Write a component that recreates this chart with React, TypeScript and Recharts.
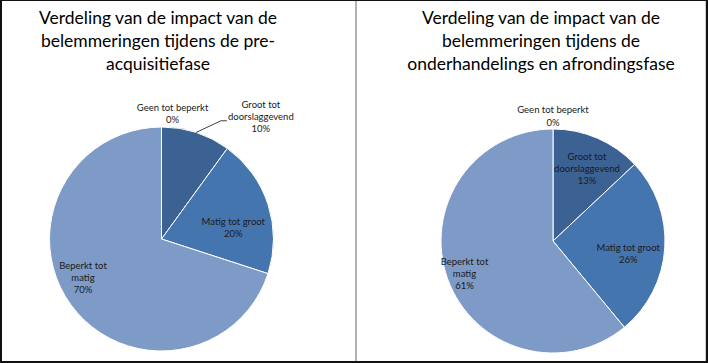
import { PieChart, Pie, Cell } from 'recharts';

const CATEGORIES = ['Geen tot beperkt', 'Groot tot doorslaggevend', 'Matig tot groot', 'Beperkt tot matig'];
const PRE_ACQUISITIE = [0, 10, 20, 70];
const ONDERHANDELING = [0, 13, 26, 61];
const TITLE_LEFT = ['Verdeling van de impact van de', 'belemmeringen tijdens de pre-', 'acquisitiefase'];
const TITLE_RIGHT = ['Verdeling van de impact van de', 'belemmeringen tijdens de', 'onderhandelings en afrondingsfase'];
// label lines per category (Excel wraps them like this)
const LABEL_LINES = [['Geen tot beperkt'], ['Groot tot', 'doorslaggevend'], ['Matig tot groot'], ['Beperkt tot', 'matig']];

const COLORS = ['#3C6193', '#3C6193', '#4575AF', '#7E9AC7'];
const FONT = 'Lato, "Open Sans", sans-serif';
const RADIAN = Math.PI / 180;
const NO_MARGIN = { top: 0, right: 0, bottom: 0, left: 0 };

// label placement per slice: distance as fraction of radius and angle shift from midAngle
const LEFT_SPOTS = [
    { f: 1.13, da: -5 },
    { f: 1.41, da: -21 },
    { f: 0.65, da: -8.5 },
    { f: 0.78, da: -10 },
];
const RIGHT_SPOTS = [
    { f: 1.12, da: 0 },
    { f: 0.72, da: -1.5 },
    { f: 0.68, da: -5.5 },
    { f: 0.84, da: 0 },
];

const makeLabel = (spots: { f: number; da: number }[], leaderIndex: number) => {
    // eslint-disable-next-line @typescript-eslint/no-explicit-any
    return (props: any) => {
        const { cx, cy, midAngle, outerRadius, index, value } = props;
        const spot = spots[index];
        const a = (midAngle + spot.da) * RADIAN;
        const x = cx + outerRadius * spot.f * Math.cos(a);
        const y = cy - outerRadius * spot.f * Math.sin(a);
        const lines = [...LABEL_LINES[index], `${value}%`];
        const lh = 12.2;
        const top = y - ((lines.length - 1) * lh) / 2;
        let leader = null;
        if (index === leaderIndex) {
            const ex = cx + outerRadius * Math.cos(midAngle * RADIAN);
            const ey = cy - outerRadius * Math.sin(midAngle * RADIAN);
            const mx = x - 40;
            const my = y + 4.5;
            leader = <polyline points={`${ex},${ey} ${mx},${my} ${mx + 6},${my}`} fill="none" stroke="#404040" strokeWidth={1} />;
        }
        return (
            <g key={`lbl-${index}`}>
                {leader}
                <text x={x} y={top} textAnchor="middle" dominantBaseline="central" fill="#1a1a1a" style={{ fontSize: '9.5px', fontFamily: FONT }}>
                    {lines.map((l, i) => (
                        <tspan key={i} x={x} dy={i === 0 ? 0 : lh}>{l}</tspan>
                    ))}
                </text>
            </g>
        );
    };
};

const Title = ({ lines, center }: { lines: string[]; center: number }) => (
    <div style={{
        position: 'absolute',
        left: center - 175,
        width: 350,
        top: 5,
        textAlign: 'center',
        fontFamily: FONT,
        fontSize: '17.5px',
        lineHeight: '23px',
        color: '#000',
        zIndex: 2,
    }}>
        {lines.map((l, i) => <div key={i}>{l}</div>)}
    </div>
);

export default function App() {
    const leftData = CATEGORIES.map((name, i) => ({ name, value: PRE_ACQUISITIE[i] }));
    const rightData = CATEGORIES.map((name, i) => ({ name, value: ONDERHANDELING[i] }));

    return (
        <div style={{
            position: 'fixed',
            left: 0,
            top: 0,
            width: 708,
            height: 363,
            boxSizing: 'border-box',
            borderTop: '1px solid #111',
            borderLeft: '2px solid #111',
            borderBottom: '2px solid #111',
            borderRight: '2px solid #111',
            background: '#fff',
            overflow: 'hidden',
        }}>
            {/* divider between the two charts */}
            <div style={{ position: 'absolute', left: 353, top: 0, width: 2, height: 362, background: '#b4b4b4' }} />
            <div style={{ position: 'absolute', left: 703, top: 0, width: 1, height: 362, background: '#d0d0d0' }} />

            <Title lines={TITLE_LEFT} center={156} />
            <Title lines={TITLE_RIGHT} center={539} />

            <div style={{ position: 'absolute', left: -2, top: -1 }}>
                <PieChart width={355} height={362} margin={NO_MARGIN}>
                    <Pie
                        data={leftData}
                        dataKey="value"
                        cx={161.5}
                        cy={239}
                        outerRadius={112}
                        startAngle={90}
                        endAngle={-270}
                        stroke="#ffffff"
                        strokeWidth={1}
                        labelLine={false}
                        label={makeLabel(LEFT_SPOTS, 1)}
                        isAnimationActive={false}
                    >
                        {leftData.map((_, i) => <Cell key={`l-${i}`} fill={COLORS[i]} />)}
                    </Pie>
                </PieChart>
            </div>

            <div style={{ position: 'absolute', left: 355, top: -1 }}>
                <PieChart width={351} height={362} margin={NO_MARGIN}>
                    <Pie
                        data={rightData}
                        dataKey="value"
                        cx={196}
                        cy={241}
                        outerRadius={112}
                        startAngle={90}
                        endAngle={-270}
                        stroke="#ffffff"
                        strokeWidth={1}
                        labelLine={false}
                        label={makeLabel(RIGHT_SPOTS, -1)}
                        isAnimationActive={false}
                    >
                        {rightData.map((_, i) => <Cell key={`r-${i}`} fill={COLORS[i]} />)}
                    </Pie>
                </PieChart>
            </div>
        </div>
    );
}
